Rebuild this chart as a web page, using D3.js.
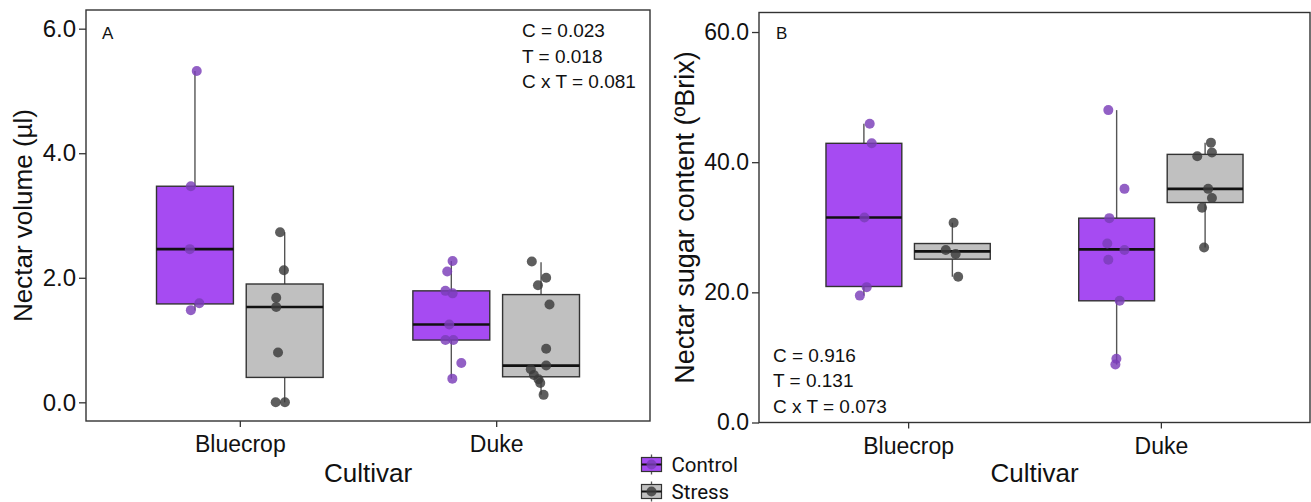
<!DOCTYPE html>
<html>
<head>
<meta charset="utf-8">
<title>Nectar volume and sugar content</title>
<script src="https://d3js.org/d3.v7.min.js"></script>
<style>
  body { margin: 0; background: #fff; }
  svg { display: block; font-family: "Liberation Sans", Arial, sans-serif; }
  .tick text { fill: #111; }
</style>
</head>
<body>
<svg id="chart" width="1311" height="502"></svg>
<script>
// categories
const cultivars = ["Bluecrop", "Duke"];
const treatments = ["Control", "Stress"];
// group order for the arrays below: Bluecrop-Control, Bluecrop-Stress, Duke-Control, Duke-Stress
const groupCultivar = ["Bluecrop", "Bluecrop", "Duke", "Duke"];
const groupTreatment = ["Control", "Stress", "Control", "Stress"];

// panel A: nectar volume (µl)
const volTicks = [0, 2, 4, 6];
// [lower whisker, Q1, median, Q3, upper whisker]
const volBoxes = [
  [1.48, 1.58, 2.46, 3.47, 5.32],
  [0.00, 0.40, 1.53, 1.90, 2.73],
  [0.38, 1.00, 1.25, 1.79, 2.27],
  [0.12, 0.41, 0.59, 1.73, 2.25]
];
const volPoints = [
  [5.32, 3.47, 2.46, 1.59, 1.48],
  [2.73, 2.12, 1.68, 1.53, 0.80, 0.00, 0.00],
  [2.27, 2.10, 1.79, 1.75, 1.25, 1.00, 1.00, 0.63, 0.38],
  [2.26, 2.00, 1.88, 1.57, 0.86, 0.59, 0.53, 0.44, 0.37, 0.31, 0.12]
];
// horizontal jitter, in fractions of a category step
const volJitter = [
  [0.007, -0.016, -0.020, 0.017, -0.016],
  [-0.018, -0.003, -0.033, -0.033, -0.026, -0.035, 0.001],
  [0.005, -0.016, -0.023, 0.005, -0.008, -0.023, 0.008, 0.039, 0.004],
  [-0.036, 0.020, -0.012, 0.033, 0.020, 0.020, -0.040, -0.028, -0.010, -0.003, 0.010]
];
const volStats = ["C = 0.023", "T = 0.018", "C x T = 0.081"];

// panel B: nectar sugar content (ºBrix)
const brixTicks = [0, 20, 40, 60];
const brixBoxes = [
  [19.5, 20.9, 31.5, 42.9, 45.9],
  [22.4, 25.1, 26.3, 27.5, 30.7],
  [8.9, 18.7, 26.6, 31.4, 48.0],
  [26.9, 33.8, 35.9, 41.2, 43.0]
];
const brixPoints = [
  [45.9, 42.9, 31.5, 20.8, 19.5],
  [30.7, 26.5, 25.9, 22.4],
  [48.0, 35.9, 31.4, 27.5, 26.5, 25.0, 18.7, 9.8, 8.9],
  [43.0, 41.5, 40.9, 35.9, 34.5, 33.0, 26.9]
];
const brixJitter = [
  [0.023, 0.031, 0.002, 0.011, -0.016],
  [0.005, -0.026, 0.013, 0.023],
  [-0.033, 0.031, -0.029, -0.037, 0.031, -0.033, 0.012, -0.001, -0.005],
  [0.023, 0.027, -0.031, 0.012, 0.027, -0.012, -0.004]
];
const brixStats = ["C = 0.916", "T = 0.131", "C x T = 0.073"];

const boxFill = { Control: "#a64bf2", Stress: "#c0c0c0" };
const pointFill = { Control: "#7a3db8", Stress: "#3b3b3b" };

const svg = d3.select("#chart");
svg.append("rect").attr("width", 1311).attr("height", 502).attr("fill", "#fff");

function drawPanel(p) {
  const x = d3.scalePoint().domain(cultivars).range([p.left, p.right]).padding(p.pad);
  const y = d3.scaleLinear().domain(p.domain).range([p.bottom, p.top]);
  const step = x.step();
  const dodge = d3.scalePoint().domain(treatments).range([-0.175 * step, 0.175 * step]);
  const bw = 0.3 * step;
  const g = svg.append("g");

  // y axis
  g.append("g")
    .attr("transform", `translate(${p.left},0)`)
    .call(d3.axisLeft(y).tickValues(p.ticks).tickFormat(d3.format(".1f")).tickSize(7).tickPadding(3))
    .call(a => a.select(".domain").remove())
    .call(a => a.selectAll("line").attr("stroke", "#333").attr("stroke-width", 1.3))
    .call(a => a.selectAll("text").attr("font-size", p.tickSize).attr("font-family", "Liberation Sans, Arial, sans-serif"));

  // x axis
  g.append("g")
    .attr("transform", `translate(0,${p.bottom})`)
    .call(d3.axisBottom(x).tickSize(6).tickPadding(9))
    .call(a => a.select(".domain").remove())
    .call(a => a.selectAll("line").attr("stroke", "#333").attr("stroke-width", 1.3))
    .call(a => a.selectAll("text").attr("font-size", 23).attr("font-family", "Liberation Sans, Arial, sans-serif"));

  const groups = d3.range(4).map(i => ({
    c: groupCultivar[i], t: groupTreatment[i], s: p.boxes[i],
    cx: x(groupCultivar[i]) + dodge(groupTreatment[i])
  }));

  // whiskers
  g.selectAll(".whisker").data(groups).join("g").each(function (d) {
    const w = d3.select(this);
    w.append("line").attr("x1", d.cx).attr("x2", d.cx)
      .attr("y1", y(d.s[3])).attr("y2", y(d.s[4]))
      .attr("stroke", "#555").attr("stroke-width", 1.4);
    w.append("line").attr("x1", d.cx).attr("x2", d.cx)
      .attr("y1", y(d.s[1])).attr("y2", y(d.s[0]))
      .attr("stroke", "#555").attr("stroke-width", 1.4);
  });

  // boxes
  g.selectAll(".box").data(groups).join("rect")
    .attr("x", d => d.cx - bw / 2).attr("width", bw)
    .attr("y", d => y(d.s[3])).attr("height", d => y(d.s[1]) - y(d.s[3]))
    .attr("fill", d => boxFill[d.t]).attr("stroke", "#333").attr("stroke-width", 1.4);

  // medians
  g.selectAll(".median").data(groups).join("line")
    .attr("x1", d => d.cx - bw / 2).attr("x2", d => d.cx + bw / 2)
    .attr("y1", d => y(d.s[2])).attr("y2", d => y(d.s[2]))
    .attr("stroke", "#111").attr("stroke-width", 2.6);

  // points
  const pts = [];
  groups.forEach((d, i) => p.points[i].forEach((v, j) =>
    pts.push({ t: d.t, cx: d.cx + p.jitter[i][j] * step, v: v })));
  g.selectAll(".pt").data(pts).join("circle")
    .attr("cx", d => d.cx).attr("cy", d => y(d.v)).attr("r", 5)
    .attr("fill", d => pointFill[d.t]).attr("fill-opacity", 0.82);

  // panel border
  g.append("rect")
    .attr("x", p.left).attr("y", p.top)
    .attr("width", p.right - p.left).attr("height", p.bottom - p.top)
    .attr("fill", "none").attr("stroke", "#333").attr("stroke-width", 1.4);

  // panel letter
  g.append("text").attr("x", p.letterX).attr("y", p.letterY)
    .attr("font-size", 17).attr("fill", "#111").text(p.letter);

  // test statistics
  g.append("g").selectAll("text").data(p.stats).join("text")
    .attr("x", p.statX).attr("y", (d, i) => p.statY + i * 25.5)
    .attr("font-size", 19).attr("fill", "#111").text(d => d);

  // axis titles
  g.append("text")
    .attr("transform", `translate(${p.yTitleX},${(p.top + p.bottom) / 2}) rotate(-90)`)
    .attr("text-anchor", "middle").attr("font-size", p.yTitleSize).attr("fill", "#111")
    .text(p.yTitle);
  g.append("text")
    .attr("x", (p.left + p.right) / 2).attr("y", 482)
    .attr("text-anchor", "middle").attr("font-size", 26).attr("fill", "#111")
    .text("Cultivar");
}

drawPanel({
  left: 86, right: 650, top: 10, bottom: 421, pad: 0.6,
  domain: [-0.3, 6.3], ticks: volTicks, tickSize: 24,
  boxes: volBoxes, points: volPoints, jitter: volJitter,
  letter: "A", letterX: 102, letterY: 39,
  stats: volStats, statX: 522, statY: 37,
  yTitle: "Nectar volume (µl)", yTitleX: 32, yTitleSize: 26
});

drawPanel({
  left: 759, right: 1310, top: 12.5, bottom: 422.5, pad: 0.59,
  domain: [0, 63], ticks: brixTicks, tickSize: 23,
  boxes: brixBoxes, points: brixPoints, jitter: brixJitter,
  letter: "B", letterX: 776, letterY: 38.5,
  stats: brixStats, statX: 773, statY: 361.5,
  yTitle: "Nectar sugar content (ºBrix)", yTitleX: 694, yTitleSize: 27
});

// legend
const legend = svg.append("g").attr("transform", "translate(641.5,464.5)");
const leg = legend.selectAll("g").data(treatments).join("g")
  .attr("transform", (d, i) => `translate(0,${i * 27})`);
leg.append("line").attr("x1", 10).attr("x2", 10).attr("y1", -10).attr("y2", 10)
  .attr("stroke", "#555").attr("stroke-width", 1.3);
leg.append("rect").attr("x", 0).attr("y", -7).attr("width", 20).attr("height", 14)
  .attr("fill", d => boxFill[d]).attr("stroke", "#333").attr("stroke-width", 1.2);
leg.append("line").attr("x1", 0).attr("x2", 20).attr("y1", 0).attr("y2", 0)
  .attr("stroke", "#111").attr("stroke-width", 2);
leg.append("circle").attr("cx", 10).attr("cy", 0).attr("r", 5)
  .attr("fill", d => pointFill[d]).attr("fill-opacity", 0.82);
leg.append("text").attr("x", 30).attr("y", 7)
  .attr("font-family", "Roboto, sans-serif").attr("font-size", 20.5).attr("fill", "#111")
  .text(d => d);
</script>
</body>
</html>
